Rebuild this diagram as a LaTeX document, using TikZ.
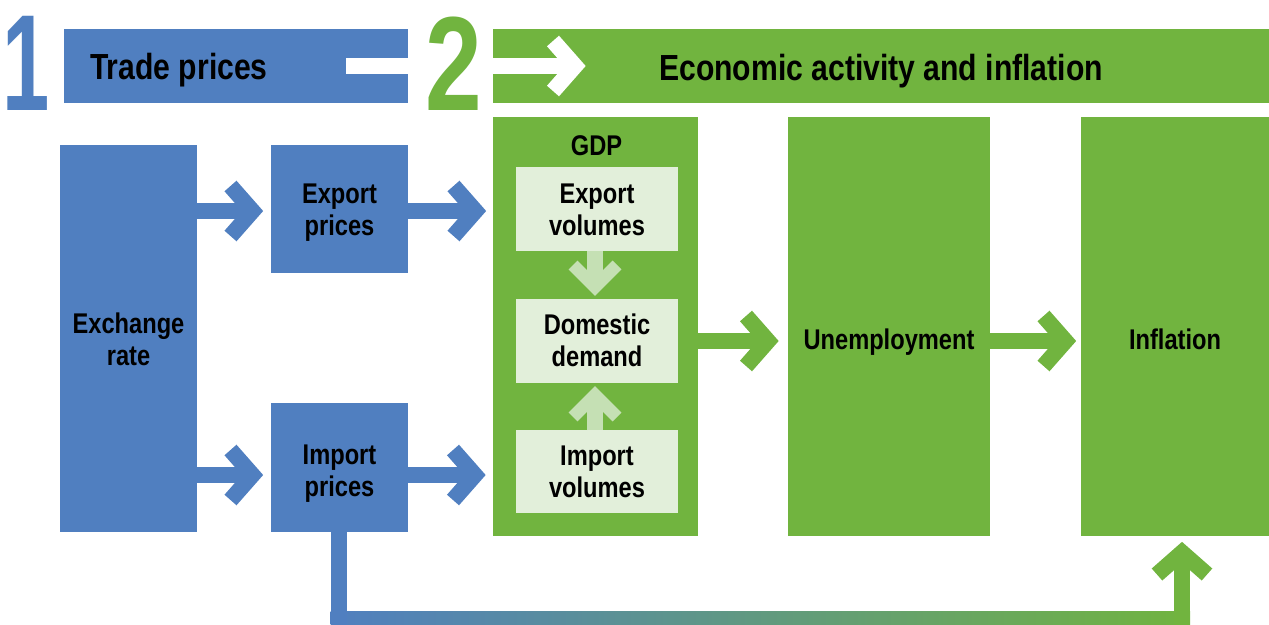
\documentclass[tikz,border=0pt]{standalone}
\usepackage{fontspec}
\setmainfont{Liberation Sans}[FakeStretch=0.83]
\newfontfamily\digonefont{Liberation Sans}[FakeStretch=0.62]
\newfontfamily\digtwofont{Liberation Sans}[FakeStretch=0.76]
\usetikzlibrary{calc}
\definecolor{cblue}{RGB}{80,127,192}
\definecolor{cgreen}{RGB}{113,180,63}
\definecolor{clbox}{RGB}{226,239,218}
\definecolor{clarrow}{RGB}{197,224,180}
\tikzset{
  box/.style={draw=none, inner sep=0pt, outer sep=0pt, rectangle},
  bluebox/.style={box, fill=cblue},
  greenbox/.style={box, fill=cgreen},
  lightbox/.style={box, fill=clbox},
  body/.style={font=\bfseries\fontsize{28.5}{32}\selectfont, align=center, inner sep=0pt, text=black},
  title/.style={font=\bfseries\fontsize{36.3}{40}\selectfont, inner sep=0pt, text=black},
  digit/.style={inner sep=0pt},
  shaft/.style={line width=16pt, line cap=butt},
  lshaft/.style={line width=16pt, line cap=butt, draw=clarrow},
  chev/.pic={\draw[line width=16pt, line join=miter, line cap=butt, draw=#1] (-22,25) -- (0,0) -- (-22,-25);},
  lchev/.pic={\draw[line width=12.5pt, line join=miter, line cap=butt, draw=clarrow] (-22,22) -- (0,0) -- (-22,-22);},
}
\begin{document}
\begin{tikzpicture}[x=1pt, y=-1pt]
\useasboundingbox (0,0) rectangle (1269,624);
\clip (0,0) rectangle (1269,624);

% header bars
\node[bluebox, minimum width=344pt, minimum height=74pt] (tradebar) at (236,66) {};
\node[greenbox, minimum width=776pt, minimum height=74pt] (econbar) at (881,66) {};

% main boxes
\node[bluebox, minimum width=137pt, minimum height=387pt] (exch) at (128.5,338.5) {};
\node[bluebox, minimum width=137pt, minimum height=128pt] (expp) at (339.5,209) {};
\node[bluebox, minimum width=137pt, minimum height=129pt] (impp) at (339.5,467.5) {};
\node[greenbox, minimum width=205pt, minimum height=419pt] (gdp) at (595.5,326.5) {};
\node[lightbox, minimum width=162pt, minimum height=84pt] (expvol) at (597,209) {};
\node[lightbox, minimum width=162pt, minimum height=84pt] (domd) at (597,341) {};
\node[lightbox, minimum width=162pt, minimum height=83pt] (impvol) at (597,471.5) {};
\node[greenbox, minimum width=202pt, minimum height=419pt] (unemp) at (889,326.5) {};
\node[greenbox, minimum width=188pt, minimum height=419pt] (infl) at (1175,326.5) {};

% white header arrow
\coordinate (ws) at (346,66);
\coordinate (vw) at (575,66);
\draw[shaft, white] (ws) -- (vw);
\pic at (vw) {chev=white};

% header texts and digits
\node[title, anchor=base west] (ttrade) at (90,79) {Trade prices};
\node[title, anchor=base] (tecon) at (881,80) {Economic activity and inflation};
\node[digit, text=cblue, anchor=base, font=\digonefont\bfseries\fontsize{137}{140}\selectfont] (d1) at (26,110) {1};
\node[digit, text=cgreen, anchor=base, font=\digtwofont\bfseries\fontsize{134}{140}\selectfont] (d2) at (454,110) {2};

% box texts
\node[body] (texch) at (128.5,339.6) {Exchange\\rate};
\node[body] (texpp) at (339.5,212.8) {Export\\prices};
\node[body] (timpp) at (339.5,474) {Import\\prices};
\node[body, anchor=base] (tgdp) at (596.5,155) {GDP};
\node[body] (texpvol) at (597,210) {Export\\volumes};
\node[body] (tdomd) at (597,340.6) {Domestic\\demand};
\node[body] (timpvol) at (597,472) {Import\\volumes};
\node[body, anchor=base] (tunemp) at (889,349) {Unemployment};
\node[body, anchor=base] (tinfl) at (1175,349) {Inflation};

% blue arrows
\coordinate (v1) at (252.5,211);
\coordinate (v2) at (475.5,211);
\coordinate (v3) at (252.5,475);
\coordinate (v4) at (475,475);
\draw[shaft, cblue] (exch.east |- v1) -- (v1);
\pic at (v1) {chev=cblue};
\draw[shaft, cblue] (expp.east |- v2) -- (v2);
\pic at (v2) {chev=cblue};
\draw[shaft, cblue] (exch.east |- v3) -- (v3);
\pic at (v3) {chev=cblue};
\draw[shaft, cblue] (impp.east |- v4) -- (v4);
\pic at (v4) {chev=cblue};

% green arrows
\coordinate (v5) at (768,341);
\coordinate (v6) at (1065.5,341);
\draw[shaft, cgreen] (gdp.east |- v5) -- (v5);
\pic at (v5) {chev=cgreen};
\draw[shaft, cgreen] (unemp.east |- v6) -- (v6);
\pic at (v6) {chev=cgreen};

% light arrows inside GDP
\coordinate (lv1) at (595,287);
\coordinate (lv2) at (595,395);
\draw[lshaft] (expvol.south -| lv1) -- (lv1);
\pic[rotate=-90] at (lv1) {lchev};
\draw[lshaft] (impvol.north -| lv2) -- (lv2);
\pic[rotate=90] at (lv2) {lchev};

% bottom feedback connector
\coordinate (bl) at (338.5,619.5);
\coordinate (br) at (1182,619.5);
\coordinate (v7) at (1182,552.5);
\shade[left color=cblue, right color=cgreen] (330.5,611.5) rectangle (1190,627.5);
\draw[shaft, cblue] (impp.south -| bl) -- ($(bl)+(0,8)$);
\draw[shaft, cgreen] ($(br)+(0,8)$) -- (v7);
\pic[rotate=90] at (v7) {chev=cgreen};
\end{tikzpicture}
\end{document}
